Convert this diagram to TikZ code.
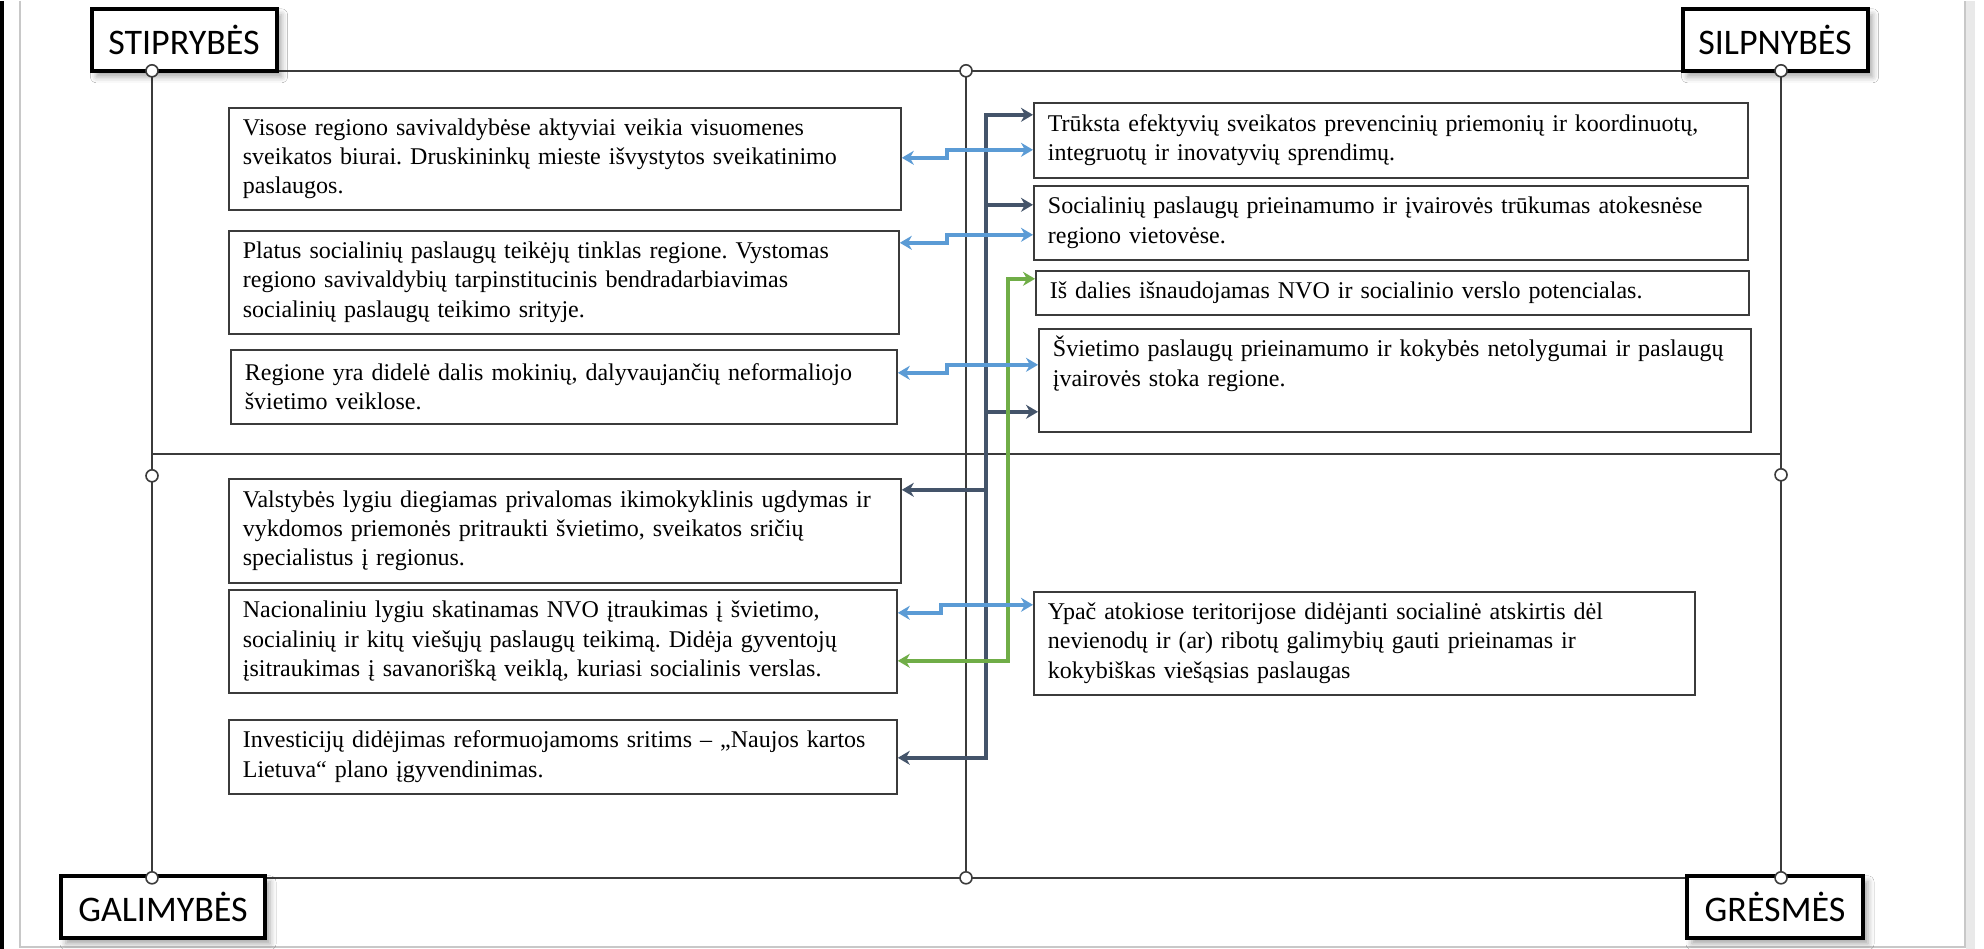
\documentclass[tikz,border=0pt]{standalone}
\usepackage{fontspec}
\setmainfont{Liberation Serif}
\newfontfamily\labelfont{Carlito}
\usetikzlibrary{positioning, arrows.meta, shadows.blur, calc}
\definecolor{swNavy}{HTML}{44546A}
\definecolor{swBlue}{HTML}{5B9BD5}
\definecolor{swGreen}{HTML}{70AD47}
\definecolor{swLine}{HTML}{3B3B3B}
\definecolor{swFrame}{HTML}{C8C8C8}
\frenchspacing

\begin{document}
\begin{tikzpicture}[
  x=0.5pt, y=-0.5pt,
  every node/.style={font=\fontsize{12}{14.7}\selectfont},
  txtbox/.style 2 args={draw=swLine, line width=0.9pt, fill=white, anchor=north west,
    align=left, inner xsep=7pt, inner ysep=3pt, text width=#1, minimum height=#2},
  quadlabel/.style={draw=black, line width=2pt, fill=white, minimum width=92.5pt,
    minimum height=31pt, font=\labelfont\fontsize{18}{20}\selectfont,
    blur shadow={shadow xshift=2.5pt, shadow yshift=-3pt, shadow blur radius=3pt,
    shadow opacity=35}},
  joint/.style={circle, draw=swLine, line width=0.8pt, fill=white, inner sep=0pt,
    minimum size=6pt},
  frameline/.style={swLine, line width=1.1pt},
  navyarr/.style={swNavy, line width=2pt, -{Stealth[length=6pt, width=7pt]}},
  bluearr/.style={swBlue, line width=2pt,
    {Stealth[length=6pt, width=7pt]}-{Stealth[length=6pt, width=7pt]}},
  greenarr/.style={swGreen, line width=1.8pt,
    {Stealth[length=6pt, width=7pt]}-{Stealth[length=6pt, width=7pt]}},
]
  % Background and page edges
  \fill[white] (0,0) rectangle (1984,948);
  \fill[black] (0,0) rectangle (4,948);
  \fill[swFrame!40] (1966,0) rectangle (1975,948);
  \draw[swFrame, line width=0.8pt] (20,0) -- (20,946) -- (1965,946) -- (1965,0);

  % Frame joints
  \coordinate (tl) at (152,70);
  \coordinate (tm) at (966,70);
  \coordinate (tr) at (1781,70);
  \coordinate (ml) at (152,475);
  \coordinate (mr) at (1781,474);
  \coordinate (bl) at (152,877);
  \coordinate (bm) at (966,877);
  \coordinate (br) at (1781,877);
  \coordinate (midl) at (152,453);
  \coordinate (midr) at (1781,453);

  % Frame
  \draw[frameline] (tl) -- (tm) -- (tr);
  \draw[frameline] (bl) -- (bm) -- (br);
  \draw[frameline] (tl) -- (ml) -- (bl);
  \draw[frameline] (tr) -- (mr) -- (br);
  \draw[frameline] (tm) -- (bm);
  \draw[frameline] (midl) -- (midr);

  % Quadrant labels
  \node[quadlabel] (stipr) at (184,39) {STIPRYBĖS};
  \node[quadlabel] (silpn) at (1775,39) {SILPNYBĖS};
  \node[quadlabel, minimum width=102pt] (galim) at (163,906) {GALIMYBĖS};
  \node[quadlabel, minimum width=88pt] (gresm) at (1775,906) {GRĖSMĖS};

  \foreach \j in {tl, tm, tr, ml, mr, bl, bm, br}
    \node[joint] (\j-dot) at (\j) {};

  % Strengths
  \node[txtbox={322pt}{51pt}] (s1) at (228,106)
    {Visose regiono savivaldybėse aktyviai veikia visuomenes\\
     sveikatos biurai. Druskininkų mieste išvystytos sveikatinimo\\
     paslaugos.};
  \node[txtbox={321pt}{51.5pt}] (s2) at (228,229)
    {Platus socialinių paslaugų teikėjų tinklas regione. Vystomas\\
     regiono savivaldybių tarpinstitucinis bendradarbiavimas\\
     socialinių paslaugų teikimo srityje.};
  \node[txtbox={319pt}{37pt}] (s3) at (230,348)
    {Regione yra didelė dalis mokinių, dalyvaujančių neformaliojo\\
     švietimo veiklose.};

  % Weaknesses
  \node[txtbox={343pt}{37.5pt}] (w1) at (1033,101)
    {Trūksta efektyvių sveikatos prevencinių priemonių ir koordinuotų,\\
     integruotų ir inovatyvių sprendimų.};
  \node[txtbox={343pt}{37pt}] (w2) at (1033,184)
    {Socialinių paslaugų prieinamumo ir įvairovės trūkumas atokesnėse\\
     regiono vietovėse.};
  \node[txtbox={342.5pt}{22pt}] (w3) at (1035,269)
    {Iš dalies išnaudojamas NVO ir socialinio verslo potencialas.};
  \node[txtbox={342pt}{51.5pt}] (w4) at (1038,327)
    {Švietimo paslaugų prieinamumo ir kokybės netolygumai ir paslaugų\\
     įvairovės stoka regione.\\ \strut};

  % Opportunities
  \node[txtbox={322pt}{52pt}] (o1) at (228,477)
    {Valstybės lygiu diegiamas privalomas ikimokyklinis ugdymas ir\\
     vykdomos priemonės pritraukti švietimo, sveikatos sričių\\
     specialistus į regionus.};
  \node[txtbox={320pt}{51.5pt}] (o2) at (228,588)
    {Nacionaliniu lygiu skatinamas NVO įtraukimas į švietimo,\\
     socialinių ir kitų viešųjų paslaugų teikimą. Didėja gyventojų\\
     įsitraukimas į savanorišką veiklą, kuriasi socialinis verslas.};
  \node[txtbox={320pt}{37pt}] (o3) at (228,718)
    {Investicijų didėjimas reformuojamoms sritims – „Naujos kartos\\
     Lietuva“ plano įgyvendinimas.};

  % Threats
  \node[txtbox={316.5pt}{51.5pt}] (t1) at (1033,590)
    {Ypač atokiose teritorijose didėjanti socialinė atskirtis dėl\\
     nevienodų ir (ar) ribotų galimybių gauti prieinamas ir\\
     kokybiškas viešąsias paslaugas};

  % Navy bus
  \coordinate (bus) at (986,0);
  \coordinate (w1in) at ($(w1.north west)+(0,13)$);
  \coordinate (w2in) at ($(w2.north west)+(0,20)$);
  \coordinate (w4in) at ($(w4.north west)+(0,84)$);
  \coordinate (o1in) at ($(o1.north east)+(0,12)$);
  \coordinate (o3in) at ($(o3.north east)+(0,39)$);
  \draw[navyarr, {Stealth[length=6pt, width=7pt]}-{Stealth[length=6pt, width=7pt]}]
    (w1in) -| (bus |- o3in) -- (o3in);
  \draw[navyarr] (bus |- w2in) -- (w2in);
  \draw[navyarr] (bus |- w4in) -- (w4in);
  \draw[navyarr] (bus |- o1in) -- (o1in);

  % Green link
  \coordinate (gbus) at (1008,0);
  \coordinate (o2gr) at ($(o2.north east)+(0,72)$);
  \coordinate (w3gr) at ($(w3.north west)+(0,9)$);
  \draw[greenarr] (o2gr) -| (gbus |- w3gr) -- (w3gr);

  % Blue links
  \draw[bluearr] ($(s1.north east)+(0,51)$) -- ++(45,0) |- ($(w1.north west)+(0,48)$);
  \draw[bluearr] ($(s2.north east)+(0,13)$) -- ++(47,0) |- ($(w2.north west)+(0,50)$);
  \draw[bluearr] ($(s3.north east)+(0,24)$) -- ++(49,0) |- ($(w4.north west)+(0,37)$);
  \draw[bluearr] ($(o2.north east)+(0,24)$) -- ++(43,0) |- ($(t1.north west)+(0,14)$);
\end{tikzpicture}
\end{document}
